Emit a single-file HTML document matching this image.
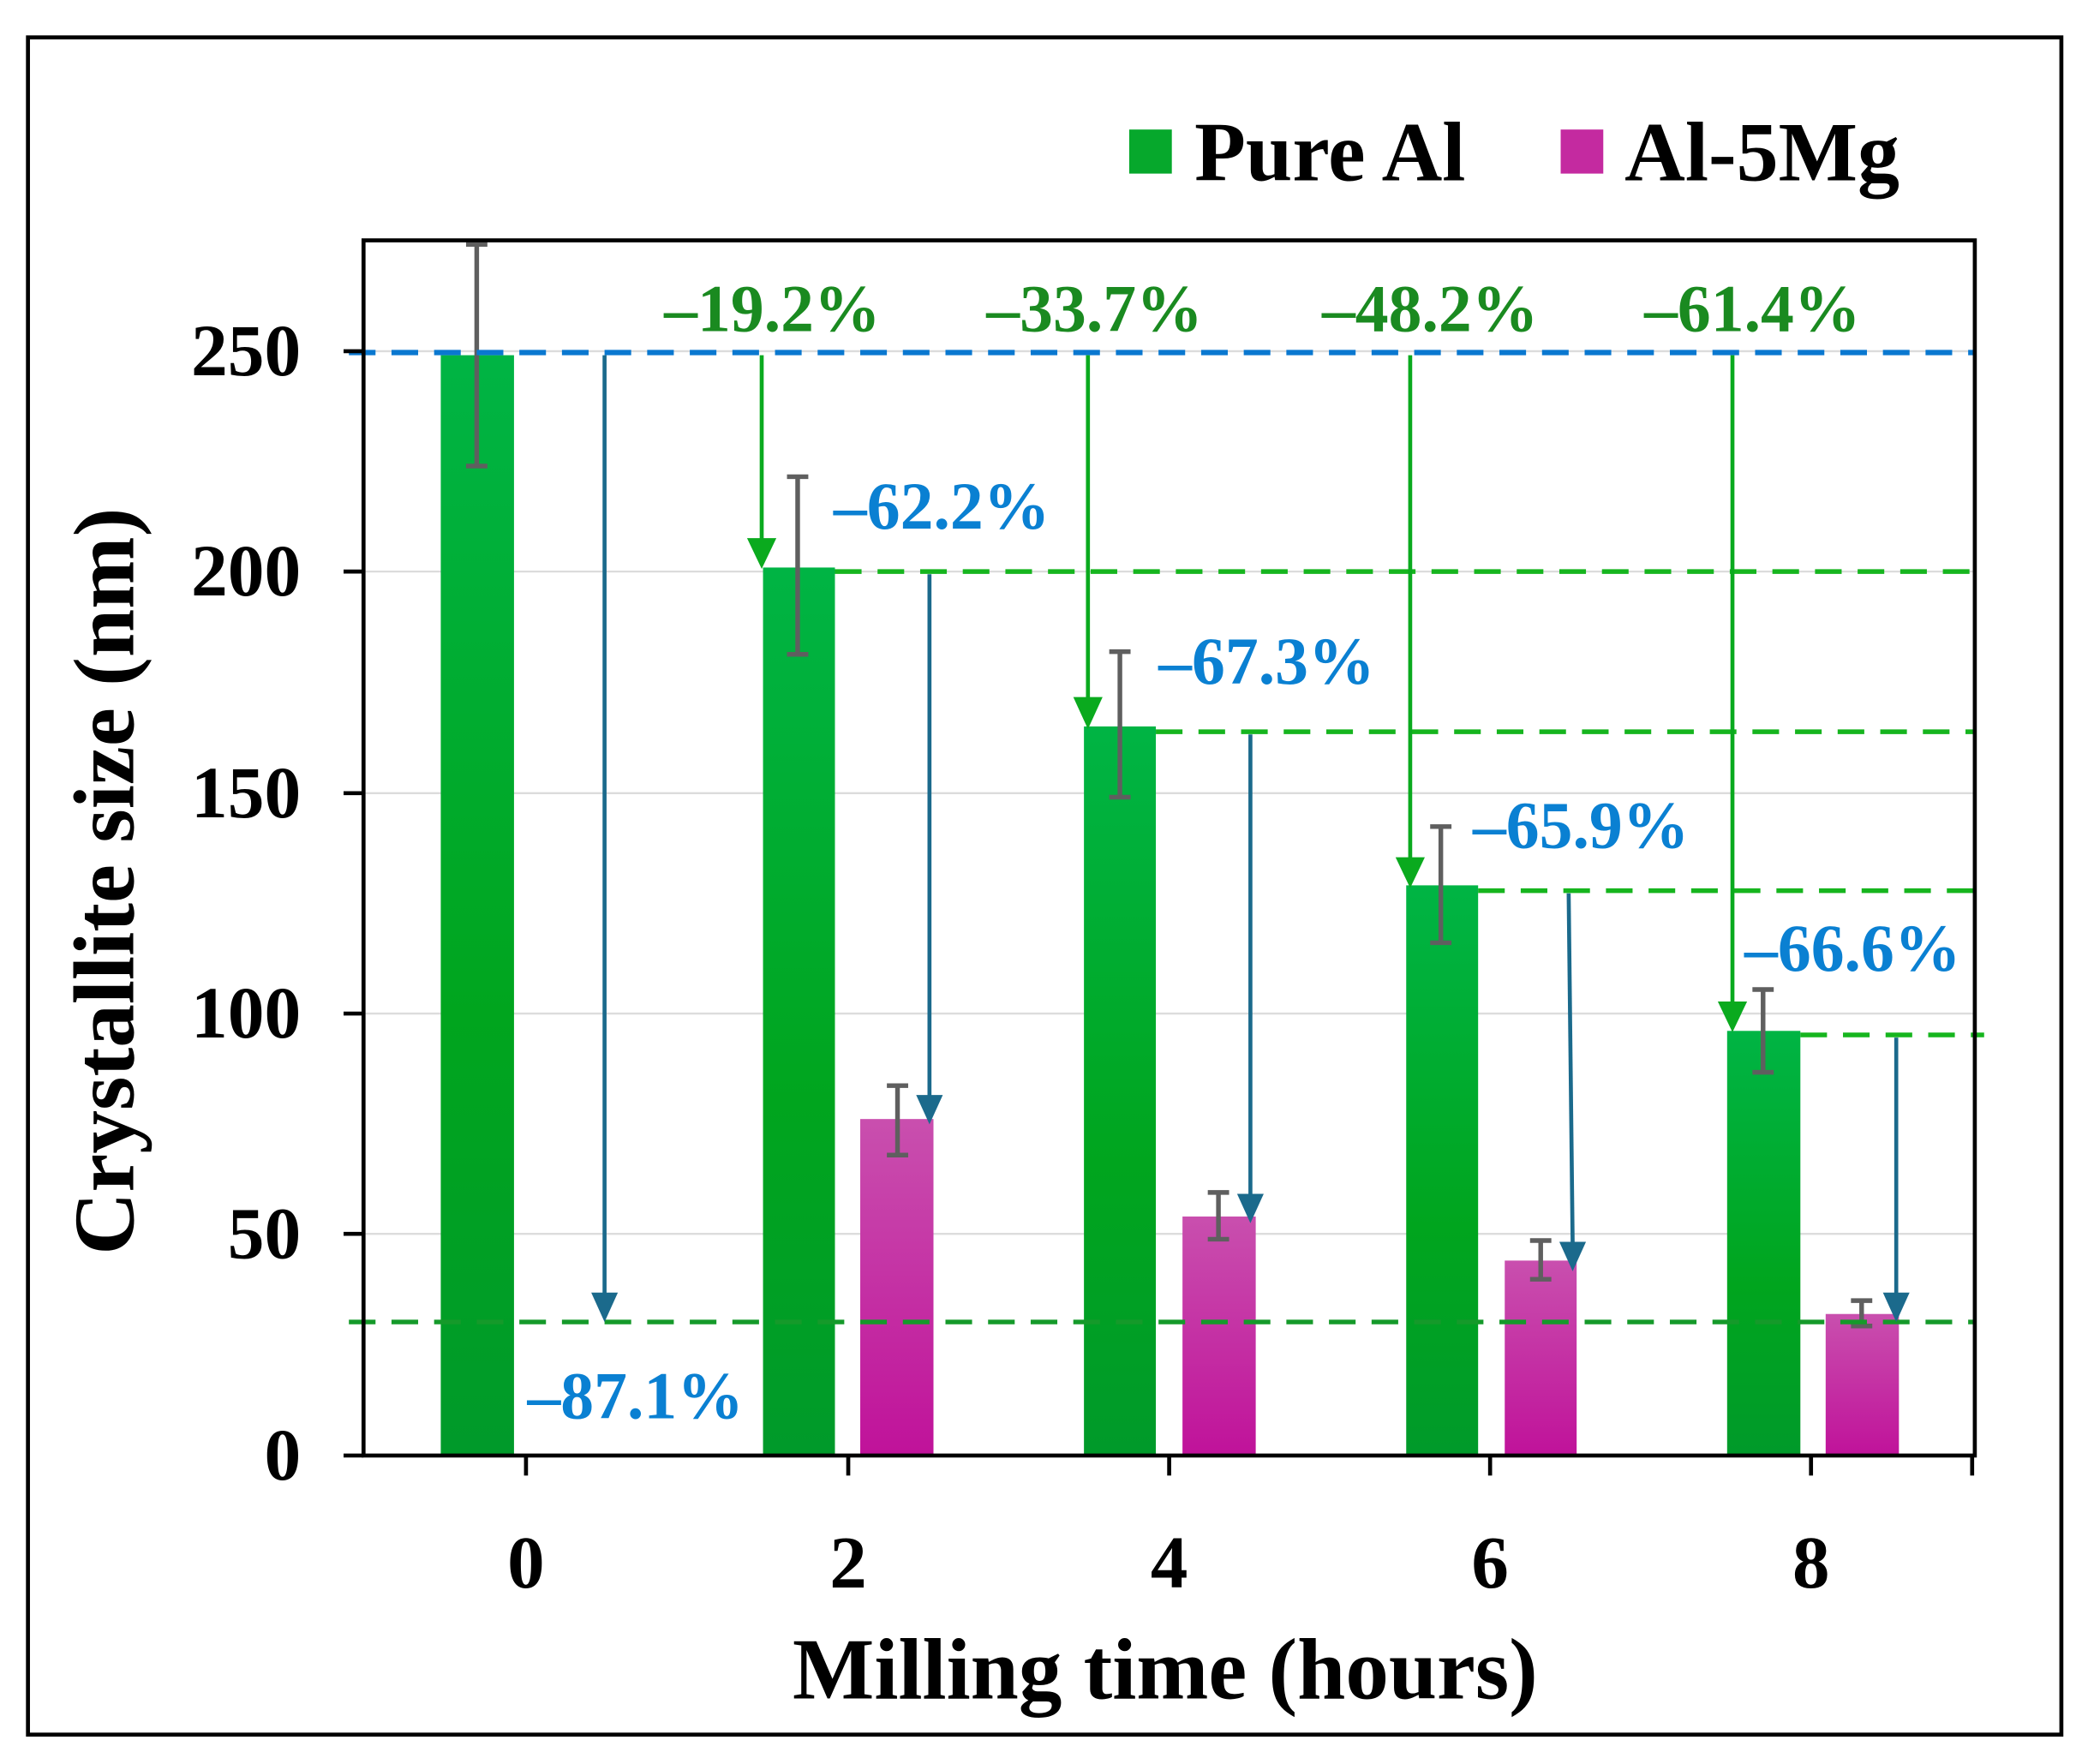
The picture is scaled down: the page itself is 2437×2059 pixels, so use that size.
<!DOCTYPE html>
<html><head><meta charset="utf-8"><style>html,body{margin:0;padding:0;background:#fff}svg{display:block}</style></head>
<body>
<svg width="2437" height="2059" viewBox="0 0 1568 1321" preserveAspectRatio="none" xmlns="http://www.w3.org/2000/svg" font-family="Liberation Serif, serif" font-weight="bold">
<defs>
<linearGradient id="g" x1="0" y1="0" x2="0" y2="1"><stop offset="0" stop-color="#00b444"/><stop offset="0.6" stop-color="#00a51e"/><stop offset="1" stop-color="#009a2a"/></linearGradient>
<linearGradient id="m" x1="0" y1="0" x2="0" y2="1"><stop offset="0" stop-color="#c94fae"/><stop offset="1" stop-color="#c0129a"/></linearGradient>
</defs>
<rect x="0" y="0" width="1568" height="1321" fill="#fff"/>
<rect x="21" y="28" width="1527" height="1271" fill="none" stroke="#000" stroke-width="3"/>
<g stroke="#dcdcdc" stroke-width="1.5">
<line x1="273" x2="1483" y1="263" y2="263"/><line x1="273" x2="1483" y1="428" y2="428"/><line x1="273" x2="1483" y1="594" y2="594"/><line x1="273" x2="1483" y1="759" y2="759"/><line x1="273" x2="1483" y1="924" y2="924"/>
</g>
<g fill="url(#g)">
<rect x="331" y="266" width="55" height="824"/>
<rect x="573" y="425" width="54" height="665"/>
<rect x="814" y="544" width="54" height="546"/>
<rect x="1056" y="663" width="54" height="427"/>
<rect x="1297" y="772" width="55" height="318"/>
</g>
<g fill="url(#m)">
<rect x="646" y="838" width="55" height="252"/>
<rect x="888" y="911" width="55" height="179"/>
<rect x="1130" y="944" width="54" height="146"/>
<rect x="1371" y="984" width="55" height="106"/>
</g>
<g stroke="#5f5f5f" stroke-width="3.5" fill="none">
<path d="M358,183V349M350,183H366M350,349H366"/>
<path d="M599,357V490M591,357H607M591,490H607"/>
<path d="M841,488V597M833,488H849M833,597H849"/>
<path d="M1082,619V706M1074,619H1090M1074,706H1090"/>
<path d="M1324,741V803M1316,741H1332M1316,803H1332"/>
<path d="M674,813V865M666,813H682M666,865H682"/>
<path d="M915,893V928M907,893H923M907,928H923"/>
<path d="M1157,929V958M1149,929H1165M1149,958H1165"/>
<path d="M1398,974V993M1390,974H1406M1390,993H1406"/>
</g>
<line x1="262" x2="1483" y1="264" y2="264" stroke="#0a78d0" stroke-width="4" stroke-dasharray="20,12"/>
<g stroke="#16b51e" stroke-width="3.5" stroke-dasharray="20,12">
<line x1="627" x2="1483" y1="428" y2="428"/>
<line x1="868" x2="1483" y1="548" y2="548"/>
<line x1="1110" x2="1483" y1="667" y2="667"/>
<line x1="1352" x2="1490" y1="775" y2="775"/>
</g>
<line x1="262" x2="1483" y1="990" y2="990" stroke="#159a2a" stroke-width="3.5" stroke-dasharray="20,12"/>
<g stroke="#0aaa1e" stroke-width="3" fill="#0aaa1e">
<line x1="572" y1="266" x2="572" y2="405"/><path d="M561,403H583L572,426Z" stroke="none"/>
<line x1="817" y1="266" x2="817" y2="524"/><path d="M806,522H828L817,546Z" stroke="none"/>
<line x1="1059" y1="266" x2="1059" y2="644"/><path d="M1048,642H1070L1059,665Z" stroke="none"/>
<line x1="1301" y1="266" x2="1301" y2="752"/><path d="M1290,750H1312L1301,773Z" stroke="none"/>
</g>
<g stroke="#1b6a8c" stroke-width="3" fill="#1b6a8c">
<line x1="454" y1="266" x2="454" y2="970"/><path d="M444,968H464L454,990Z" stroke="none"/>
<line x1="698" y1="430" x2="698" y2="822"/><path d="M688,820H708L698,842Z" stroke="none"/>
<line x1="939" y1="550" x2="939" y2="896"/><path d="M929,894H949L939,916Z" stroke="none"/>
<line x1="1178" y1="669" x2="1181" y2="932"/><path d="M1171,930H1191L1181,952Z" stroke="none"/>
<line x1="1424" y1="777" x2="1424" y2="970"/><path d="M1414,968H1434L1424,990Z" stroke="none"/>
</g>
<g stroke="#000" stroke-width="3" fill="none">
<rect x="273" y="180" width="1210" height="910"/>
<line x1="258" x2="273" y1="1090" y2="1090"/>
<line x1="258" x2="273" y1="263" y2="263"/><line x1="258" x2="273" y1="428" y2="428"/><line x1="258" x2="273" y1="594" y2="594"/><line x1="258" x2="273" y1="759" y2="759"/><line x1="258" x2="273" y1="924" y2="924"/>
<line x1="395" x2="395" y1="1090" y2="1105"/><line x1="637" x2="637" y1="1090" y2="1105"/><line x1="878" x2="878" y1="1090" y2="1105"/><line x1="1119" x2="1119" y1="1090" y2="1105"/><line x1="1360" x2="1360" y1="1090" y2="1105"/><line x1="1481" x2="1481" y1="1090" y2="1105"/>
</g>
<g font-size="55" text-anchor="end" fill="#000">
<text x="226" y="281">250</text><text x="226" y="446">200</text><text x="226" y="612">150</text><text x="226" y="777">100</text><text x="226" y="942">50</text><text x="226" y="1108">0</text>
</g>
<g font-size="56" text-anchor="middle" fill="#000">
<text x="395" y="1189">0</text><text x="637" y="1189">2</text><text x="878" y="1189">4</text><text x="1119" y="1189">6</text><text x="1360" y="1189">8</text>
</g>
<text x="875" y="1272" font-size="65" text-anchor="middle">Milling time (hours)</text>
<text transform="translate(100,660) rotate(-90)" font-size="65" text-anchor="middle">Crystallite size (nm)</text>
<rect x="848" y="97" width="32" height="33" fill="#06a82c"/>
<text x="897" y="135" font-size="63">Pure Al</text>
<rect x="1172" y="97" width="32" height="33" fill="#c42aa0"/>
<text x="1220" y="135" font-size="63">Al-5Mg</text>
<g font-size="50" fill="#1a8a20" text-anchor="middle">
<text x="580" y="248">–19.2%</text><text x="822" y="248">–33.7%</text><text x="1074" y="248">–48.2%</text><text x="1316" y="248">–61.4%</text>
</g>
<g font-size="50" fill="#0a80d2">
<text x="626" y="396">–62.2%</text><text x="870" y="512">–67.3%</text><text x="1106" y="635">–65.9%</text><text x="1310" y="727">–66.6%</text><text x="396" y="1062">–87.1%</text>
</g>
</svg>
</body></html>
